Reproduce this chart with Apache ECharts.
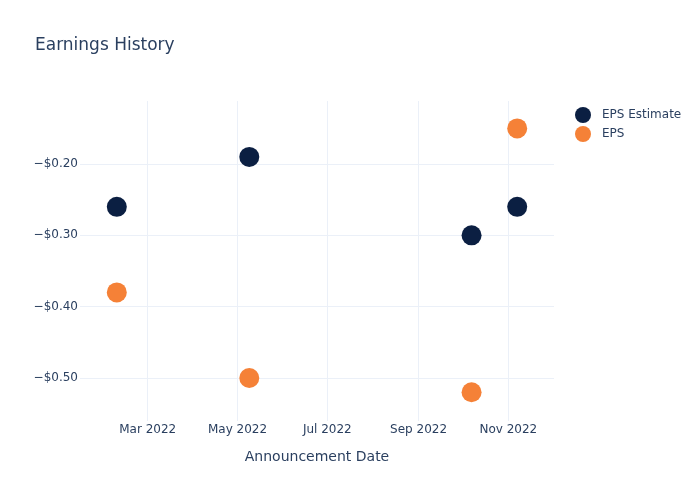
<!DOCTYPE html>
<html>
<head>
<meta charset="utf-8">
<script src="https://cdn.jsdelivr.net/npm/echarts@6/dist/echarts.min.js"></script>
<style>html,body{margin:0;padding:0;background:#fff}#c{width:700px;height:500px}</style>
</head>
<body>
<div id="c"></div>
<script>
const dates = ['2022-02-08', '2022-05-09', '2022-10-07', '2022-11-07'];
const epsEstimate = [-0.26, -0.19, -0.30, -0.26];
const eps = [-0.38, -0.50, -0.52, -0.15];
const yTicks = [-0.5, -0.4, -0.3, -0.2];
const monthNames = ['Jan','Feb','Mar','Apr','May','Jun','Jul','Aug','Sep','Oct','Nov','Dec'];

const textColor = '#2a3f5f';
const gridColor = '#ebf0f8';
const chart = echarts.init(document.getElementById('c'), null, {renderer: 'canvas'});
chart.setOption({
  useUTC: true,
  animation: false,
  backgroundColor: '#fff',
  title: {
    text: 'Earnings History', left: 30, top: 32,
    textStyle: {fontFamily: 'DejaVu Sans', fontSize: 17, fontWeight: 'normal', color: textColor}
  },
  legend: {
    orient: 'vertical', left: 570, top: 102, itemGap: 3, itemWidth: 28, itemHeight: 16,
    icon: 'circle',
    textStyle: {fontFamily: 'DejaVu Sans', fontSize: 12, color: textColor},
    data: ['EPS Estimate', 'EPS']
  },
  grid: {left: 80, right: 146, top: 101, bottom: 79, containLabel: false},
  xAxis: {
    type: 'time',
    min: Date.UTC(2022, 0, 14),
    max: Date.UTC(2022, 11, 2),
    splitNumber: 5,
    name: 'Announcement Date', nameLocation: 'middle', nameGap: 29,
    nameTextStyle: {fontFamily: 'DejaVu Sans', fontSize: 14, color: textColor},
    axisLine: {show: false}, axisTick: {show: false},
    splitLine: {show: true, showMinLine: false, showMaxLine: false, lineStyle: {color: gridColor, width: 1}},
    axisLabel: {
      fontFamily: 'DejaVu Sans', fontSize: 12, color: textColor, margin: 3,
      formatter: function (v) { const d = new Date(v); return monthNames[d.getUTCMonth()] + ' ' + d.getUTCFullYear(); }
    }
  },
  yAxis: {
    type: 'value',
    min: -0.5603, max: -0.1116,
    axisLine: {show: false}, axisTick: {show: false, customValues: yTicks},
    splitLine: {show: false},
    axisLabel: {
      customValues: yTicks,
      fontFamily: 'DejaVu Sans', fontSize: 12, color: textColor, margin: 2,
      formatter: function (v) { return '\u2212$' + Math.abs(v).toFixed(2); }
    }
  },
  series: [
    {
      name: 'EPS Estimate', type: 'scatter', symbolSize: 20,
      itemStyle: {color: '#0b1f42', opacity: 1},
      data: dates.map((d, i) => [d, epsEstimate[i]]),
      markLine: {
        silent: true, symbol: 'none', label: {show: false}, z: 0,
        lineStyle: {color: gridColor, type: 'solid', width: 1},
        data: yTicks.map(v => ({yAxis: v}))
      },
      z: 3
    },
    {
      name: 'EPS', type: 'scatter', symbolSize: 20,
      itemStyle: {color: '#f58137', opacity: 1},
      data: dates.map((d, i) => [d, eps[i]]),
      z: 3
    }
  ]
});
</script>
</body>
</html>
